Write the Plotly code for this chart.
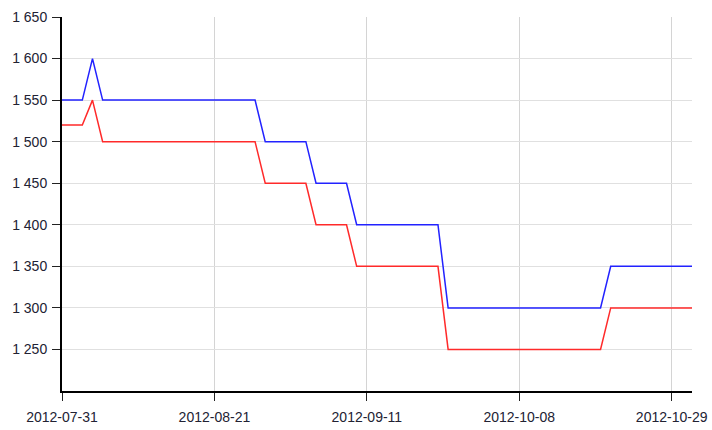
import pandas as pd
import plotly.graph_objects as go

# Trading dates (category axis), Oct 1-4 holiday excluded
dates = [d.strftime("%Y-%m-%d") for d in pd.bdate_range("2012-07-31", "2012-10-31")
         if d.strftime("%Y-%m-%d") not in ("2012-10-01", "2012-10-02", "2012-10-03", "2012-10-04")]

blue_values = ([1550] * 3 + [1600] + [1550] * 16 + [1500] * 5 + [1450] * 4
               + [1400] * 9 + [1300] * 16 + [1350] * 9)
red_values = ([1520] * 3 + [1550] + [1500] * 16 + [1450] * 5 + [1400] * 4
              + [1350] * 9 + [1250] * 16 + [1300] * 9)

x_ticks = ["2012-07-31", "2012-08-21", "2012-09-11", "2012-10-08", "2012-10-29"]
y_ticks = [1250, 1300, 1350, 1400, 1450, 1500, 1550, 1600, 1650]

fig = go.Figure()
fig.add_trace(go.Scatter(x=dates, y=blue_values, mode="lines",
                         line=dict(color="#2222ff", width=1.5), showlegend=False))
fig.add_trace(go.Scatter(x=dates, y=red_values, mode="lines",
                         line=dict(color="#ff2a2a", width=1.5), showlegend=False))

fig.update_layout(
    width=712, height=430,
    margin=dict(l=62, r=20, t=17, b=39, autoexpand=False),
    paper_bgcolor="white", plot_bgcolor="white",
    separators=". ",
    font=dict(family="Liberation Sans, Arial, sans-serif", size=14, color="#222233"),
    xaxis=dict(
        type="category", range=[0, len(dates) - 1], automargin=False,
        tickvals=x_ticks, ticktext=x_ticks, ticklabelstandoff=4,
        showgrid=True, gridcolor="#d4d4d4", gridwidth=1,
        showline=True, linecolor="black", linewidth=2,
        ticks="outside", ticklen=8, tickcolor="#222", tickwidth=1,
        zeroline=False,
    ),
    yaxis=dict(
        range=[1200, 1650], tickvals=y_ticks, separatethousands=True, automargin=False,
        ticklabelstandoff=2,
        showgrid=True, gridcolor="#e0e0e0", gridwidth=1,
        showline=True, linecolor="black", linewidth=2,
        ticks="outside", ticklen=8, tickcolor="#222", tickwidth=1,
        zeroline=False,
    ),
)

fig.write_html(
    "out.html",
    config={"displayModeBar": False},
    post_script="document.body.style.margin='0';document.body.style.padding='0';",
)
